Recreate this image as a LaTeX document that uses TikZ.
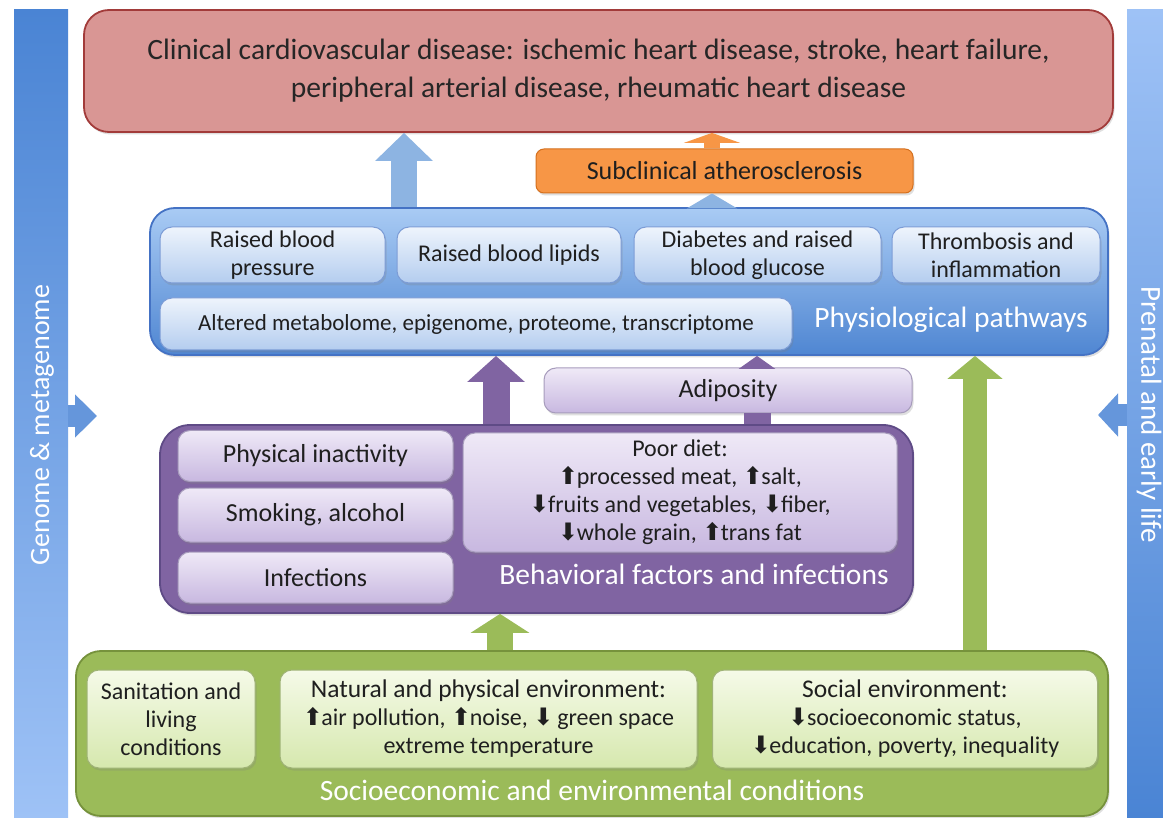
\documentclass[tikz,border=0pt]{standalone}
\usepackage{fontspec}
\setmainfont{Carlito}
\newfontfamily\symfont{DejaVu Sans}
\usetikzlibrary{positioning}
\usetikzlibrary{arrows.meta}
\usetikzlibrary{shadows}

\definecolor{clinfill}{HTML}{D99694}
\definecolor{clinline}{HTML}{A23B3A}
\definecolor{orfill}{HTML}{F79646}
\definecolor{orline}{HTML}{D5701E}
\definecolor{phystop}{HTML}{A9CBF4}
\definecolor{physbot}{HTML}{4F86D2}
\definecolor{physline}{HTML}{4472C4}
\definecolor{boxtop}{HTML}{EEF4FC}
\definecolor{boxbot}{HTML}{B4CDEF}
\definecolor{purfill}{HTML}{8064A2}
\definecolor{purline}{HTML}{5F4B86}
\definecolor{lavtop}{HTML}{EFE9F7}
\definecolor{lavbot}{HTML}{C8B8E0}
\definecolor{grnfill}{HTML}{9BBB59}
\definecolor{grnline}{HTML}{76923C}
\definecolor{limtop}{HTML}{F5FAE8}
\definecolor{limbot}{HTML}{D6E8AE}
\definecolor{bardark}{HTML}{4A84D4}
\definecolor{barlight}{HTML}{9EC2F6}
\definecolor{arrblue}{HTML}{8DB4E2}

\newcommand{\upa}{{\symfont ⬆}\kern-1.5pt}
\newcommand{\dna}{{\symfont ⬇}\kern-1.5pt}

\begin{document}
\begin{tikzpicture}[
    x=1pt, y=-1pt,
    font=\fontsize{24}{28}\selectfont,
    softshadow/.style={drop shadow={shadow xshift=1.5pt,shadow yshift=-2.5pt,opacity=0.25}},
    group/.style={rectangle,rounded corners=25pt,draw,line width=1.8pt,align=center,softshadow},
    item/.style={rectangle,rounded corners=12pt,draw,line width=1pt,align=center,inner sep=0pt,text=black!88,softshadow},
    bluebox/.style={item,draw=physline!70,top color=boxtop,bottom color=boxbot},
    lavbox/.style={item,draw=purline!55,top color=lavtop,bottom color=lavbot},
    limebox/.style={item,draw=grnline!70,top color=limtop,bottom color=limbot},
    grouplabel/.style={text=white,font=\fontsize{29.5}{32}\selectfont},
    sidebar/.style={rectangle,inner sep=0pt},
    bartext/.style={text=white,inner sep=0pt}
]
\useasboundingbox (0,0) rectangle (1163,818);
\fill[white] (0,0) rectangle (1163,818);

% side bars
\node[sidebar,top color=bardark,bottom color=barlight,minimum width=54pt,minimum height=808pt] (genome) at (41,414) {};
\node[bartext,rotate=90,font=\fontsize{28}{30}\selectfont] (genomelbl) at (42,425) {Genome \& metagenome};
\node[sidebar,top color=barlight,bottom color=bardark,minimum width=38pt,minimum height=808pt] (prenatal) at (1146,414) {};
\node[bartext,rotate=-90,font=\fontsize{29}{30}\selectfont] (prenatallbl) at (1149,415) {Prenatal and early life};

% outcome
\node[group,fill=clinfill,draw=clinline,minimum width=1029pt,minimum height=122pt,
      font=\fontsize{29.5}{38}\selectfont,text=black!85] (clin) at (598.5,71)
      {Clinical cardiovascular disease: ischemic heart disease, stroke, heart failure,\\
       peripheral arterial disease, rheumatic heart disease};
\node[item,rounded corners=8pt,fill=orfill,draw=orline,minimum width=377pt,minimum height=44pt,
      font=\fontsize{26}{28}\selectfont] (subath) at (724.5,171) {Subclinical atherosclerosis};

% physiological pathways
\node[group,top color=phystop,bottom color=physbot,draw=physline,minimum width=958pt,minimum height=147pt] (phys) at (629,281.5) {};
\node[bluebox,minimum width=225pt,minimum height=56pt] (bp) at (272.5,255) {Raised blood\\pressure};
\node[bluebox,minimum width=224pt,minimum height=56pt] (lip) at (509,255) {Raised blood lipids};
\node[bluebox,minimum width=247pt,minimum height=56pt] (diab) at (757.5,255) {Diabetes and raised\\blood glucose};
\node[bluebox,minimum width=208pt,minimum height=56pt] (thromb) at (996,255) {Thrombosis and\\inflammation};
\node[bluebox,minimum width=632pt,minimum height=52pt,font=\fontsize{23}{28}\selectfont] (omics) at (476,324) {Altered metabolome, epigenome, proteome, transcriptome};
\node[grouplabel] (physlbl) at (951,320) {Physiological pathways};

% behavioural factors
\node[item,draw=purline!55,top color=lavtop,bottom color=lavbot,minimum width=368pt,minimum height=45pt,
      font=\fontsize{26}{28}\selectfont] (adip) at (728,390.5) {Adiposity};
\node[group,fill=purfill,draw=purline,rounded corners=30pt,minimum width=753pt,minimum height=188pt] (behav) at (536.5,519) {};
\node[lavbox,minimum width=275pt,minimum height=51pt,font=\fontsize{26}{28}\selectfont] (inact) at (315.5,456) {Physical inactivity};
\node[lavbox,minimum width=275pt,minimum height=54pt,font=\fontsize{26}{28}\selectfont] (smok) at (315.5,515) {Smoking, alcohol};
\node[lavbox,minimum width=275pt,minimum height=51pt,font=\fontsize{26}{28}\selectfont] (infec) at (315.5,577.5) {Infections};
\node[lavbox,minimum width=434pt,minimum height=119pt] (diet) at (680,492.5)
      {Poor diet:\\\upa processed meat, \upa salt,\\\dna fruits and vegetables, \dna fiber,\\\dna whole grain, \upa trans fat};
\node[grouplabel] (behavlbl) at (694,574) {Behavioral factors and infections};

% socioeconomic conditions
\node[group,fill=grnfill,draw=grnline,minimum width=1032pt,minimum height=165pt] (socio) at (592,733.5) {};
\node[limebox,minimum width=168pt,minimum height=98pt] (sanit) at (171,719) {Sanitation and\\living\\conditions};
\node[limebox,minimum width=417pt,minimum height=98pt] (natenv) at (488.5,719)
      {{\fontsize{25.5}{28}\selectfont Natural and physical environment:}\\\upa air pollution, \upa noise, \dna{} green space\\extreme temperature};
\node[limebox,minimum width=385pt,minimum height=98pt] (socenv) at (905,719)
      {{\fontsize{25.5}{28}\selectfont Social environment:}\\\dna socioeconomic status,\\\dna education, poverty, inequality};
\node[grouplabel] (sociolbl) at (592,790) {Socioeconomic and environmental conditions};

% block arrows
\coordinate (bluex) at (404,0);
\coordinate (subx) at (712,0);
\coordinate (purx) at (496,0);
\coordinate (adipx) at (757,0);
\coordinate (grnx) at (500,0);
\coordinate (grnrx) at (975,0);
\coordinate (gtip) at (97,416);
\coordinate (ptip) at (1098,415);

\draw[arrblue,line width=26pt,-{Triangle[width=56pt,length=28pt]}] (phys.north -| bluex) -- (clin.south -| bluex);
\draw[orfill,line width=16pt,-{Triangle[width=56pt,length=10pt]}] (subath.north -| subx) -- (clin.south -| subx);
\draw[arrblue,line width=10pt,-{Triangle[width=50pt,length=15pt]}] (phys.north -| subx) -- (subath.south -| subx);
\draw[purfill,line width=27pt,-{Triangle[width=56pt,length=26pt]}] (behav.north -| purx) -- (phys.south -| purx);
\draw[purfill,line width=27pt] (behav.north -| adipx) -- (adip.south -| adipx);
\draw[purfill,line width=14pt,-{Triangle[width=36pt,length=13pt]}] (adip.north -| adipx) -- (phys.south -| adipx);
\draw[grnfill,line width=26pt,-{Triangle[width=58pt,length=19pt]}] (socio.north -| grnx) -- (behav.south -| grnx);
\draw[grnfill,line width=24pt,-{Triangle[width=54pt,length=23pt]}] (socio.north -| grnrx) -- (phys.south -| grnrx);
\draw[bardark!85,line width=22pt,-{Triangle[width=42pt,length=22pt]}] (genome.east |- gtip) -- (gtip);
\draw[bardark!85,line width=22pt,-{Triangle[width=42pt,length=20pt]}] (prenatal.west |- ptip) -- (ptip);

\end{tikzpicture}
\end{document}
